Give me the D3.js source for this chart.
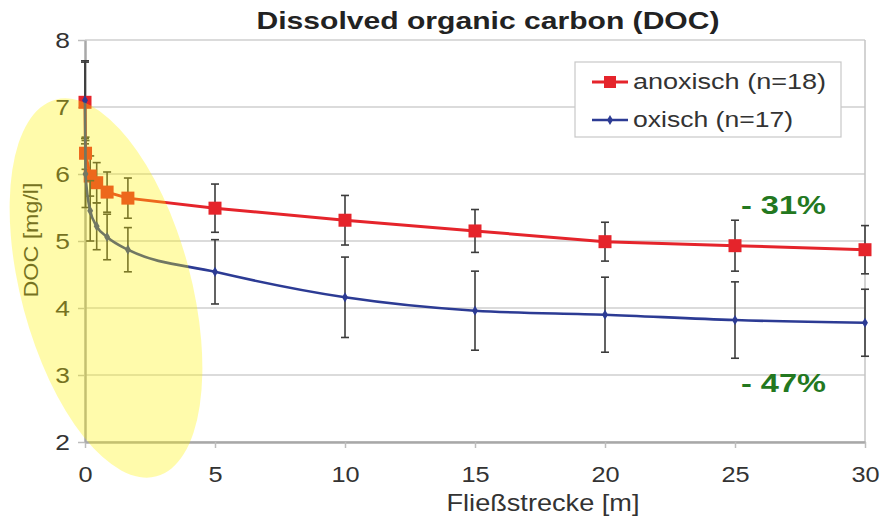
<!DOCTYPE html>
<html>
<head>
<meta charset="utf-8">
<script src="https://cdn.jsdelivr.net/npm/d3@7/dist/d3.min.js"></script>
<style>
  html, body { margin: 0; padding: 0; background: #fff; }
  svg { display: block; font-family: "Liberation Sans", Arial, Helvetica, sans-serif; }
</style>
</head>
<body>
<svg width="892" height="516"></svg>
<script>
// Fliessstrecke in m (first points are crowded near the inflow)
var distance = [0, 0.02, 0.2, 0.45, 0.85, 1.65, 5, 10, 15, 20, 25, 30];

var docAnox = [7.07, 6.31, 5.97, 5.87, 5.73, 5.64, 5.49, 5.31, 5.15, 4.99, 4.93, 4.87];
var errAnox = [0.62, 0.24, 0.3, 0.3, 0.3, 0.3, 0.36, 0.37, 0.32, 0.29, 0.38, 0.36];

var docOx = [7.1, 6.0, 5.45, 5.22, 5.06, 4.87, 4.54, 4.16, 3.96, 3.9, 3.82, 3.78];
var errOx = [0.57, 0.5, 0.45, 0.35, 0.34, 0.33, 0.48, 0.6, 0.59, 0.56, 0.57, 0.5];

var xTicks = [0, 5, 10, 15, 20, 25, 30];
var yTicks = [2, 3, 4, 5, 6, 7, 8];

var seriesNames = ['anoxisch (n=18)', 'oxisch (n=17)'];
var changeLabels = ['- 31%', '- 47%'];

(function (d3) {
  var svg = d3.select('svg')
    , left = 85, right = 865, top = 40, bottom = 442
    , red = '#e5242b', blue = '#2c3b94', barColor = '#3c3c3c'
    ;

  var x = d3.scaleLinear().domain([0, 30]).range([left, right]);
  var y = d3.scaleLinear().domain([2, 8]).range([bottom, top]);

  // stretch text horizontally, the original picture is a bit wide
  function widen(sel, k) {
    sel.each(function () {
      var w = this.getComputedTextLength();
      d3.select(this).attr('textLength', w * k).attr('lengthAdjust', 'spacingAndGlyphs');
    });
  }

  svg.append('text')
     .attr('x', 488)
     .attr('y', 29)
     .attr('text-anchor', 'middle')
     .attr('font-size', '24px')
     .attr('font-weight', 'bold')
     .attr('fill', '#222')
     .attr('textLength', 463)
     .attr('lengthAdjust', 'spacingAndGlyphs')
     .text('Dissolved organic carbon (DOC)');

  // grid
  svg.append('g')
     .selectAll('line')
     .data(yTicks)
     .join('line')
     .attr('x1', left)
     .attr('x2', right)
     .attr('y1', function (d) { return y(d); })
     .attr('y2', function (d) { return y(d); })
     .style('stroke', '#cfcfcf')
     .style('stroke-width', 1.5);

  svg.append('line')
     .attr('x1', right).attr('x2', right)
     .attr('y1', top).attr('y2', bottom)
     .style('stroke', '#c4c4c4')
     .style('stroke-width', 1.5);

  // axes
  var xAxis = svg.append('g')
     .attr('transform', 'translate(0,' + bottom + ')')
     .call(d3.axisBottom(x).tickValues(xTicks).tickFormat(d3.format('d')).tickSize(6).tickSizeOuter(0));
  var yAxis = svg.append('g')
     .attr('transform', 'translate(' + left + ',0)')
     .call(d3.axisLeft(y).tickValues(yTicks).tickFormat(d3.format('d')).tickSize(7).tickSizeOuter(0));

  [xAxis, yAxis].forEach(function (ax) {
    ax.select('.domain').style('stroke', '#a8a8a8').style('stroke-width', 2.5);
    ax.selectAll('.tick line').style('stroke', '#bdbdbd').style('stroke-width', 1.5);
    ax.selectAll('.tick text')
      .attr('font-size', '22px')
      .attr('font-family', '"Liberation Sans", Arial, sans-serif')
      .attr('fill', '#333');
  });
  xAxis.selectAll('.tick text').attr('y', 24).attr('dy', '0.71em');
  yAxis.selectAll('.tick text').attr('x', -15);
  widen(xAxis.selectAll('.tick text'), 1.15);
  widen(yAxis.selectAll('.tick text'), 1.2);

  svg.append('text')
     .attr('x', 543)
     .attr('y', 511)
     .attr('text-anchor', 'middle')
     .attr('font-size', '24px')
     .attr('fill', '#333')
     .attr('textLength', 193)
     .attr('lengthAdjust', 'spacingAndGlyphs')
     .text('Fließstrecke [m]');

  svg.append('text')
     .attr('transform', 'translate(38,240) rotate(-90)')
     .attr('text-anchor', 'middle')
     .attr('font-size', '21px')
     .attr('fill', '#333')
     .attr('textLength', 115)
     .attr('lengthAdjust', 'spacingAndGlyphs')
     .text('DOC [mg/l]');

  function drawSeries(values, errors, color, width, curve) {
    var pts = distance.map(function (d, i) {
      return { x: d, y: values[i], e: errors[i] };
    });
    var g = svg.append('g');

    var bars = g.selectAll('g.err').data(pts).join('g').attr('class', 'err');
    bars.append('line')
        .attr('x1', function (d) { return x(d.x); })
        .attr('x2', function (d) { return x(d.x); })
        .attr('y1', function (d) { return y(d.y + d.e); })
        .attr('y2', function (d) { return y(d.y - d.e); });
    bars.append('line')
        .attr('x1', function (d) { return x(d.x) - 4; })
        .attr('x2', function (d) { return x(d.x) + 4; })
        .attr('y1', function (d) { return y(d.y + d.e); })
        .attr('y2', function (d) { return y(d.y + d.e); });
    bars.append('line')
        .attr('x1', function (d) { return x(d.x) - 4; })
        .attr('x2', function (d) { return x(d.x) + 4; })
        .attr('y1', function (d) { return y(d.y - d.e); })
        .attr('y2', function (d) { return y(d.y - d.e); });
    bars.selectAll('line').style('stroke', barColor).style('stroke-width', 1.6);

    g.append('path')
     .datum(pts)
     .attr('d', d3.line().x(function (d) { return x(d.x); }).y(function (d) { return y(d.y); }).curve(curve))
     .style('fill', 'none')
     .style('stroke', color)
     .style('stroke-width', width);
    return { g: g, pts: pts };
  }

  var anox = drawSeries(docAnox, errAnox, red, 3, d3.curveLinear);
  anox.g.selectAll('rect')
     .data(anox.pts)
     .join('rect')
     .attr('x', function (d) { return x(d.x) - 6.5; })
     .attr('y', function (d) { return y(d.y) - 6.5; })
     .attr('width', 13)
     .attr('height', 13)
     .style('fill', red);

  var ox = drawSeries(docOx, errOx, blue, 2.6, d3.curveMonotoneX);
  ox.g.selectAll('path.pt')
     .data(ox.pts)
     .join('path')
     .attr('class', 'pt')
     .attr('d', d3.symbol().type(d3.symbolDiamond).size(30))
     .attr('transform', function (d) { return 'translate(' + x(d.x) + ',' + y(d.y) + ')'; })
     .style('fill', blue);

  // legend
  var lg = svg.append('g');
  lg.append('rect')
    .attr('x', 575).attr('y', 62)
    .attr('width', 266).attr('height', 75)
    .style('fill', '#fff')
    .style('stroke', '#c8c8c8')
    .style('stroke-width', 1.2);
  [[red, 82], [blue, 120]].forEach(function (s, i) {
    lg.append('line')
      .attr('x1', 592).attr('x2', 628)
      .attr('y1', s[1]).attr('y2', s[1])
      .style('stroke', s[0])
      .style('stroke-width', i === 0 ? 3 : 2.6);
    if (i === 0) {
      lg.append('rect')
        .attr('x', 604).attr('y', s[1] - 6)
        .attr('width', 12).attr('height', 12)
        .style('fill', red);
    } else {
      lg.append('path')
        .attr('d', d3.symbol().type(d3.symbolDiamond).size(30))
        .attr('transform', 'translate(610,' + s[1] + ')')
        .style('fill', blue);
    }
    lg.append('text')
      .attr('x', 633)
      .attr('y', s[1] + 7)
      .attr('font-size', '22px')
      .attr('fill', '#333')
      .attr('textLength', i === 0 ? 193 : 160)
      .attr('lengthAdjust', 'spacingAndGlyphs')
      .text(seriesNames[i]);
  });

  svg.selectAll('text.change')
     .data(changeLabels)
     .join('text')
     .attr('class', 'change')
     .attr('x', 741)
     .attr('y', function (d, i) { return i === 0 ? 214 : 392; })
     .attr('font-size', '25px')
     .attr('font-weight', 'bold')
     .attr('fill', '#23781f')
     .attr('textLength', 85)
     .attr('lengthAdjust', 'spacingAndGlyphs')
     .text(function (d) { return d; });

  // yellow highlight over the first metres
  svg.append('ellipse')
     .attr('cx', 0)
     .attr('cy', 0)
     .attr('rx', 85)
     .attr('ry', 195)
     .attr('transform', 'translate(106,288) rotate(-15)')
     .style('fill', '#fff200')
     .style('opacity', 0.33);
})(d3);
</script>
</body>
</html>
